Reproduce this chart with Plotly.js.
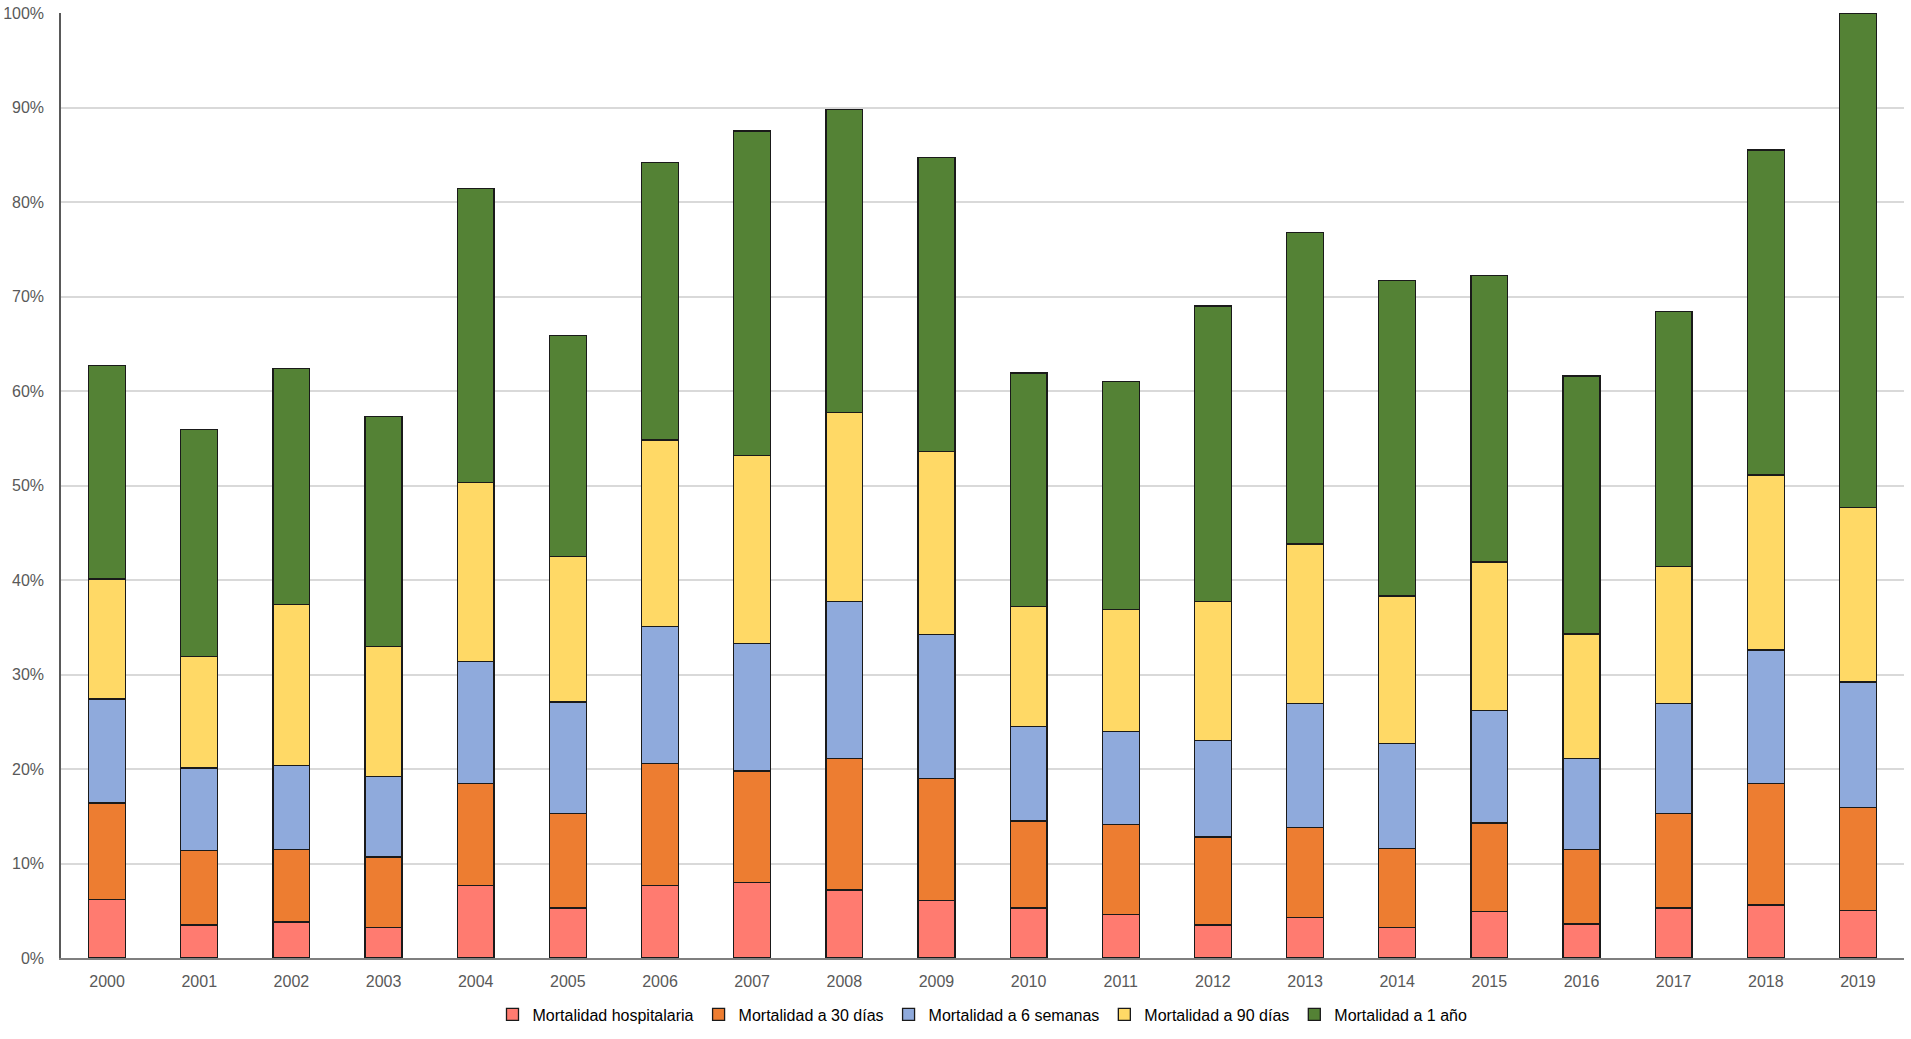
<!DOCTYPE html>
<html>
<head>
<meta charset="utf-8">
<script src="https://cdn.plot.ly/plotly-3.0.1.min.js"></script>
<style>
html,body{margin:0;padding:0;background:#fff;}
#chart{width:1911px;height:1039px;}
</style>
</head>
<body>
<div id="chart"></div>
<script>
const years = ["2000","2001","2002","2003","2004","2005","2006","2007","2008","2009","2010","2011","2012","2013","2014","2015","2016","2017","2018","2019"];
const seriesNames = ["Mortalidad hospitalaria","Mortalidad a 30 días","Mortalidad a 6 semanas","Mortalidad a 90 días","Mortalidad a 1 año"];
const hospitalaria = [6.2,3.5,3.8,3.2,7.7,5.3,7.7,8.0,7.2,6.1,5.3,4.6,3.5,4.3,3.2,4.9,3.6,5.3,5.6,5.0];
const dias30 = [10.2,7.9,7.7,7.5,10.8,10.0,12.9,11.8,13.9,12.9,9.2,9.5,9.3,9.5,8.4,9.4,7.9,10.0,12.9,10.9];
const semanas6 = [11.0,8.7,8.9,8.5,12.9,11.8,14.5,13.5,16.6,15.2,10.0,9.9,10.2,13.1,11.1,11.9,9.6,11.6,14.1,13.3];
const dias90 = [12.7,11.8,17.0,13.8,18.9,15.4,19.7,19.9,20.0,19.4,12.7,12.9,14.7,16.9,15.6,15.7,13.2,14.5,18.5,18.5];
const anio1 = [22.6,24.0,25.0,24.3,31.1,23.4,29.4,34.3,32.1,31.1,24.7,24.1,31.3,33.0,33.4,30.3,27.3,27.0,34.4,52.3];
const yTicks = [0,10,20,30,40,50,60,70,80,90,100];
const yTickLabels = ["0%","10%","20%","30%","40%","50%","60%","70%","80%","90%","100%"];

const colors = ["#FF7B70","#ED7D31","#8FAADC","#FFD966","#548235"];
const values = [hospitalaria, dias30, semanas6, dias90, anio1];

const traces = values.map((v,i)=>({
  type:'bar', x:years, y:v, name:seriesNames[i],
  marker:{color:colors[i], line:{color:'#1a1a1a', width:1.3}},
  hoverinfo:'x+y+name'
}));

const layout = {
  width:1911, height:1039,
  margin:{l:61, r:7, t:13, b:78},
  barmode:'stack', bargap:0.6,
  paper_bgcolor:'#fff', plot_bgcolor:'#fff',
  showlegend:true,
  legend:{orientation:'h', x:0.5, xanchor:'center', y:-0.0598, yanchor:'middle',
    traceorder:'normal', itemwidth:30,
    font:{family:'"Liberation Sans",Arial,sans-serif', size:16, color:'#000'}},
  xaxis:{type:'category', showline:true, linecolor:'#7f7f7f', linewidth:1.5,
    ticks:'', ticklabelstandoff:8,
    tickfont:{family:'"Liberation Sans",sans-serif', size:16, color:'#595959'},
    showgrid:false, zeroline:false},
  yaxis:{range:[0,100], tickvals:yTicks, ticktext:yTickLabels, showline:true, linecolor:'#595959', linewidth:1.5,
    gridcolor:'#d9d9d9', gridwidth:1.5, zeroline:false, ticks:'', ticklabelstandoff:12,
    tickfont:{family:'"Liberation Sans",sans-serif', size:16, color:'#595959'}}
};

Plotly.newPlot('chart', traces, layout, {displayModeBar:false});
</script>
</body>
</html>
